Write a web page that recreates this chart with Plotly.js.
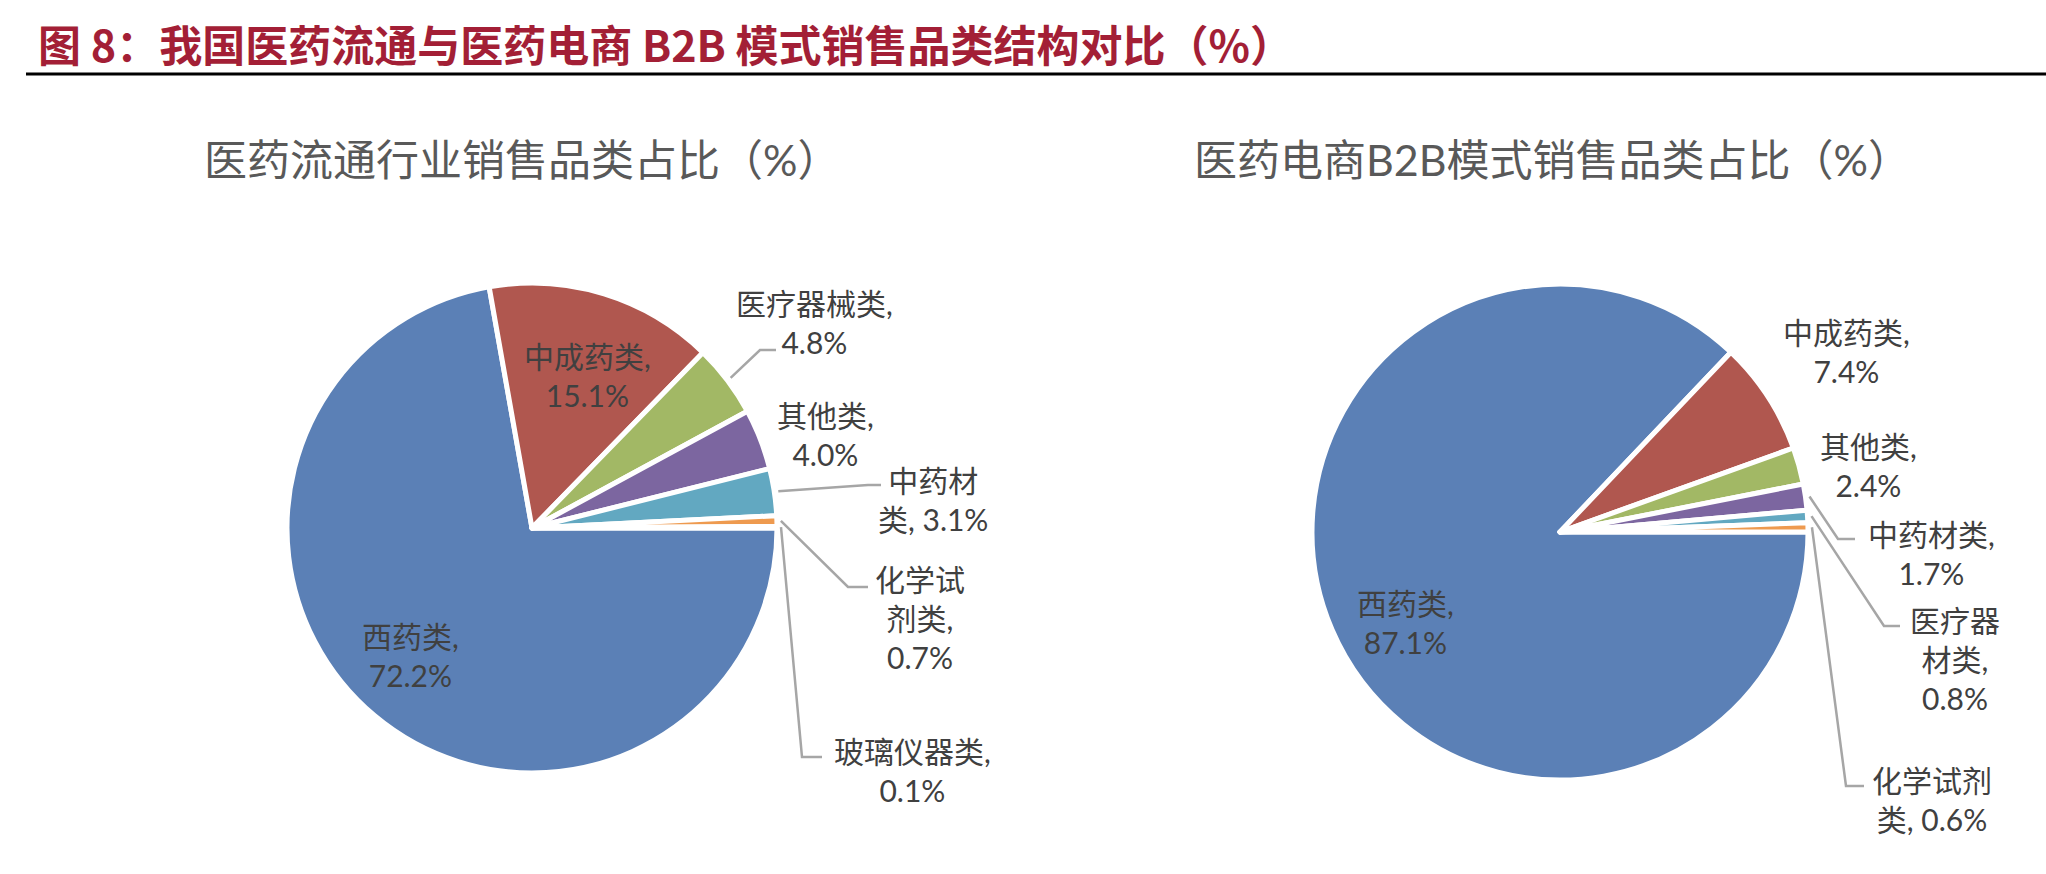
<!DOCTYPE html>
<html>
<head>
<meta charset="utf-8">
<script src="https://cdn.plot.ly/plotly-3.0.1.min.js"></script>
<style>
  html, body { margin: 0; padding: 0; background: #fff; }
  #chart { width: 2046px; height: 874px; }
</style>
</head>
<body>
<div id="chart"></div>
<script>
// data
const channelCats = ['西药类', '中成药类', '医疗器械类', '其他类', '中药材类', '化学试剂类', '玻璃仪器类'];
const channelShare = [72.2, 15.1, 4.8, 4.0, 3.1, 0.7, 0.1];
const b2bCats = ['西药类', '中成药类', '其他类', '中药材类', '医疗器材类', '化学试剂类'];
const b2bShare = [87.1, 7.4, 2.4, 1.7, 0.8, 0.6];

const mainTitle = '图 8：我国医药流通与医药电商 B2B 模式销售品类结构对比（%）';
const channelTitle = '医药流通行业销售品类占比（%）';
const b2bTitle = '医药电商B2B模式销售品类占比（%）';

const sliceColors = ['#5B80B6', '#B0574F', '#A2B865', '#7C66A0', '#62A8C1', '#EE9A4F', '#3F5F8F'];

const W = 2046, H = 874;
const ROT = 90;
const labelFont = "Lato, 'Noto Sans CJK SC', sans-serif";
const cjkFont = "'Noto Sans CJK SC', sans-serif";

// pie placement in px (layout, not data)
const leftPie = { cx: 532, cy: 528, r: 245 };
const rightPie = { cx: 1560, cy: 532, r: 248 };

// label placement per slice: centre of text block, how the category wraps,
// and the elbow/end of a leader line if one is drawn
const leftLabels = [
  { x: 410, y: 655 },
  { x: 587, y: 376 },
  { x: 814, y: 322, leader: [[760, 350], [776, 350]] },
  { x: 825, y: 434 },
  { x: 933, y: 499, brk: 3, leader: [[868, 485], [881, 485]] },
  { x: 920, y: 618, brk: 3, own: true, leader: [[848, 587], [868, 587]] },
  { x: 912, y: 770, leader: [[802, 757], [822, 757]] }
];
const rightLabels = [
  { x: 1405, y: 622 },
  { x: 1846, y: 351 },
  { x: 1868, y: 465 },
  { x: 1931, y: 553, leader: [[1838, 539], [1855, 539]] },
  { x: 1955, y: 659, brk: 3, own: true, leader: [[1884, 626], [1900, 626]] },
  { x: 1932, y: 799, brk: 4, leader: [[1846, 786], [1864, 786]] }
];

const px = (x) => x / W;
const py = (y) => 1 - y / H;

function labelText(cat, val, brk, own) {
  const pct = val.toFixed(1) + '%';
  if (!brk) return cat + ',<br>' + pct;
  return cat.slice(0, brk) + '<br>' + cat.slice(brk) + ',' + (own ? '<br>' : ' ') + pct;
}

function pieTrace(cats, vals, pie) {
  return {
    type: 'pie',
    labels: cats,
    values: vals,
    sort: false,
    direction: 'clockwise',
    rotation: ROT,
    textinfo: 'none',
    hoverinfo: 'label+percent',
    marker: { colors: sliceColors.slice(0, cats.length), line: { color: '#ffffff', width: 5 } },
    domain: {
      x: [px(pie.cx - pie.r), px(pie.cx + pie.r)],
      y: [py(pie.cy + pie.r), py(pie.cy - pie.r)]
    },
    showlegend: false
  };
}

// point on the rim at the middle of slice i
function rimPoint(vals, i, pie) {
  const total = vals.reduce((a, b) => a + b, 0);
  const before = vals.slice(0, i).reduce((a, b) => a + b, 0);
  const ang = (ROT + (before + vals[i] / 2) / total * 360) * Math.PI / 180;
  const rr = pie.r + 4;
  return [pie.cx + rr * Math.sin(ang), pie.cy - rr * Math.cos(ang)];
}

function labelsFor(cats, vals, specs, pie, annotations, shapes) {
  cats.forEach((cat, i) => {
    const s = specs[i];
    annotations.push({
      xref: 'paper', yref: 'paper', x: px(s.x), y: py(s.y),
      xanchor: 'center', yanchor: 'middle', align: 'center', showarrow: false,
      text: labelText(cat, vals[i], s.brk, s.own),
      font: { family: labelFont, size: 30, color: '#404040' }
    });
    if (s.leader) {
      const p0 = rimPoint(vals, i, pie);
      const pts = [p0].concat(s.leader);
      const path = pts.map((p, k) => (k ? 'L' : 'M') + px(p[0]) + ',' + py(p[1])).join(' ');
      shapes.push({
        type: 'path', xref: 'paper', yref: 'paper', path: path,
        line: { color: '#A6A6A6', width: 2.5 }
      });
    }
  });
}

const annotations = [
  {
    xref: 'paper', yref: 'paper', x: px(36), y: py(43), xanchor: 'left', yanchor: 'middle',
    showarrow: false, text: mainTitle,
    font: { family: cjkFont, size: 43, weight: 700, color: '#A31F36' }
  },
  {
    xref: 'paper', yref: 'paper', x: px(522), y: py(160), xanchor: 'center', yanchor: 'middle',
    showarrow: false, text: channelTitle,
    font: { family: labelFont, size: 43, color: '#595959' }
  },
  {
    xref: 'paper', yref: 'paper', x: px(1552), y: py(160), xanchor: 'center', yanchor: 'middle',
    showarrow: false, text: b2bTitle,
    font: { family: labelFont, size: 43, color: '#595959' }
  }
];
const shapes = [
  {
    type: 'line', xref: 'paper', yref: 'paper',
    x0: px(26), x1: 1, y0: py(74), y1: py(74),
    line: { color: '#000000', width: 3 }
  }
];

labelsFor(channelCats, channelShare, leftLabels, leftPie, annotations, shapes);
labelsFor(b2bCats, b2bShare, rightLabels, rightPie, annotations, shapes);

const data = [
  pieTrace(channelCats, channelShare, leftPie),
  pieTrace(b2bCats, b2bShare, rightPie)
];

const layout = {
  width: W,
  height: H,
  margin: { l: 0, r: 0, t: 0, b: 0, pad: 0 },
  paper_bgcolor: '#ffffff',
  plot_bgcolor: '#ffffff',
  showlegend: false,
  annotations: annotations,
  shapes: shapes
};

Plotly.newPlot('chart', data, layout, { displayModeBar: false, staticPlot: true });
</script>
</body>
</html>
